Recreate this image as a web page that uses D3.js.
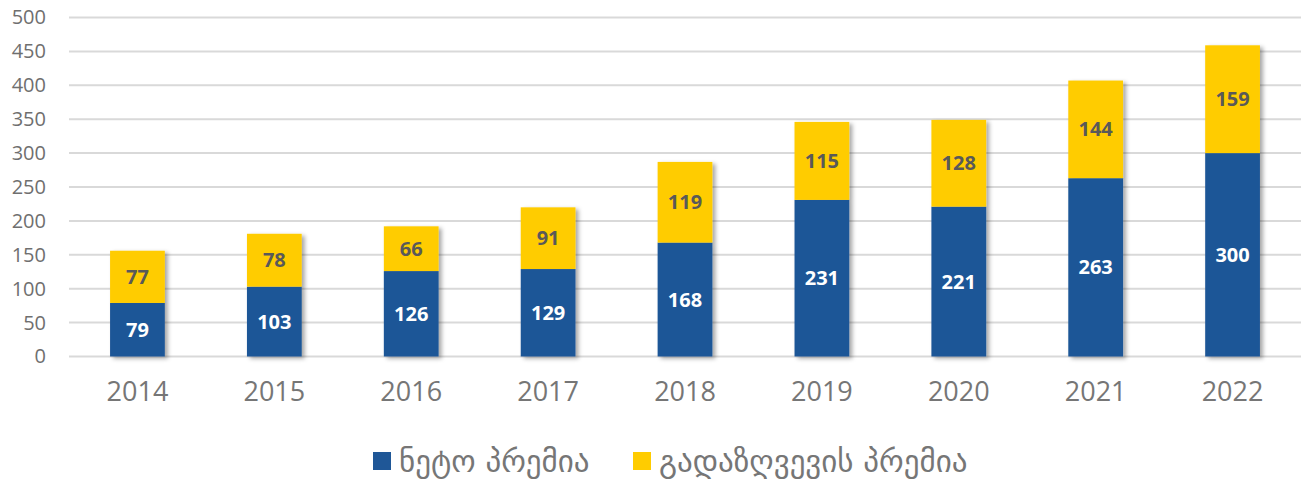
<!DOCTYPE html>
<html>
<head>
<meta charset="utf-8">
<script src="https://cdn.jsdelivr.net/npm/d3@7"></script>
<style>
  body { margin: 0; background: #fff; }
  svg { display: block; }
</style>
</head>
<body>
<svg id="chart" width="1301" height="480"></svg>
<script>
// données
const years = ["2014", "2015", "2016", "2017", "2018", "2019", "2020", "2021", "2022"];
const netPremium = [79, 103, 126, 129, 168, 231, 221, 263, 300];
const reinsPremium = [77, 78, 66, 91, 119, 115, 128, 144, 159];
const yTicks = [0, 50, 100, 150, 200, 250, 300, 350, 400, 450, 500];
const seriesNames = ["ნეტო პრემია", "გადაზღვევის პრემია"];
const colors = ["#1F5797", "#FFCC00"];

const svg = d3.select("#chart");

const x = d3.scaleBand().domain(years).range([69, 1301]).paddingInner(0.6).paddingOuter(0.3);
const y = d3.scaleLinear().domain([0, 500]).range([356.5, 17.5]);

// ombre portée des barres
const defs = svg.append("defs");
const f = defs.append("filter").attr("id", "shadow").attr("x", "-20%").attr("y", "-20%").attr("width", "150%").attr("height", "150%");
f.append("feDropShadow").attr("dx", 3).attr("dy", 2).attr("stdDeviation", 2).attr("flood-color", "#000").attr("flood-opacity", 0.35);

// grille
svg.append("g")
  .selectAll("line")
  .data(yTicks)
  .enter()
  .append("line")
  .attr("x1", 69).attr("x2", 1301)
  .attr("y1", d => y(d)).attr("y2", d => y(d))
  .attr("stroke", "#d9d9d9").attr("stroke-width", 2);

// axe Y
const yAxis = svg.append("g")
  .attr("transform", "translate(50,0)")
  .call(d3.axisLeft(y).tickValues(yTicks).tickSize(0).tickPadding(4));
yAxis.select(".domain").remove();
yAxis.selectAll("text")
  .attr("font-family", "Open Sans")
  .attr("font-size", 20)
  .attr("fill", "#6f6f6f");

// axe X
const xAxis = svg.append("g")
  .attr("transform", "translate(0,372)")
  .call(d3.axisBottom(x).tickSize(0).tickPadding(10));
xAxis.select(".domain").remove();
xAxis.selectAll("text")
  .attr("font-family", "Open Sans")
  .attr("font-size", 27)
  .attr("fill", "#767676");

// barres empilées
const data = years.map((yr, i) => ({ year: yr, net: netPremium[i], re: reinsPremium[i] }));

const groups = svg.append("g")
  .selectAll("g")
  .data(data)
  .enter()
  .append("g")
  .attr("filter", "url(#shadow)");

groups.append("rect")
  .attr("x", d => x(d.year))
  .attr("width", x.bandwidth())
  .attr("y", d => y(d.net))
  .attr("height", d => y(0) - y(d.net))
  .attr("fill", colors[0]);

groups.append("rect")
  .attr("x", d => x(d.year))
  .attr("width", x.bandwidth())
  .attr("y", d => y(d.net + d.re))
  .attr("height", d => y(d.net) - y(d.net + d.re))
  .attr("fill", colors[1]);

// étiquettes
const labels = svg.append("g").attr("font-family", "Open Sans").attr("font-weight", "bold").attr("font-size", 20).attr("text-anchor", "middle");
labels.selectAll(".lnet")
  .data(data)
  .enter()
  .append("text")
  .attr("x", d => x(d.year) + x.bandwidth() / 2)
  .attr("y", d => (y(0) + y(d.net)) / 2 + 7)
  .attr("fill", "#fff")
  .text(d => d.net);
labels.selectAll(".lre")
  .data(data)
  .enter()
  .append("text")
  .attr("x", d => x(d.year) + x.bandwidth() / 2)
  .attr("y", d => (y(d.net) + y(d.net + d.re)) / 2 + 7)
  .attr("fill", "#595959")
  .text(d => d.re);

// légende
const legendX = [373, 633];
const legend = svg.append("g");
seriesNames.forEach((name, i) => {
  legend.append("rect").attr("x", legendX[i]).attr("y", 452).attr("width", 18).attr("height", 18).attr("fill", colors[i]);
  legend.append("text")
    .attr("x", legendX[i] + 26).attr("y", 472)
    .attr("font-family", "DejaVu Sans")
    .attr("font-size", 31)
    .attr("fill", "#767676")
    .text(name);
});
</script>
</body>
</html>
